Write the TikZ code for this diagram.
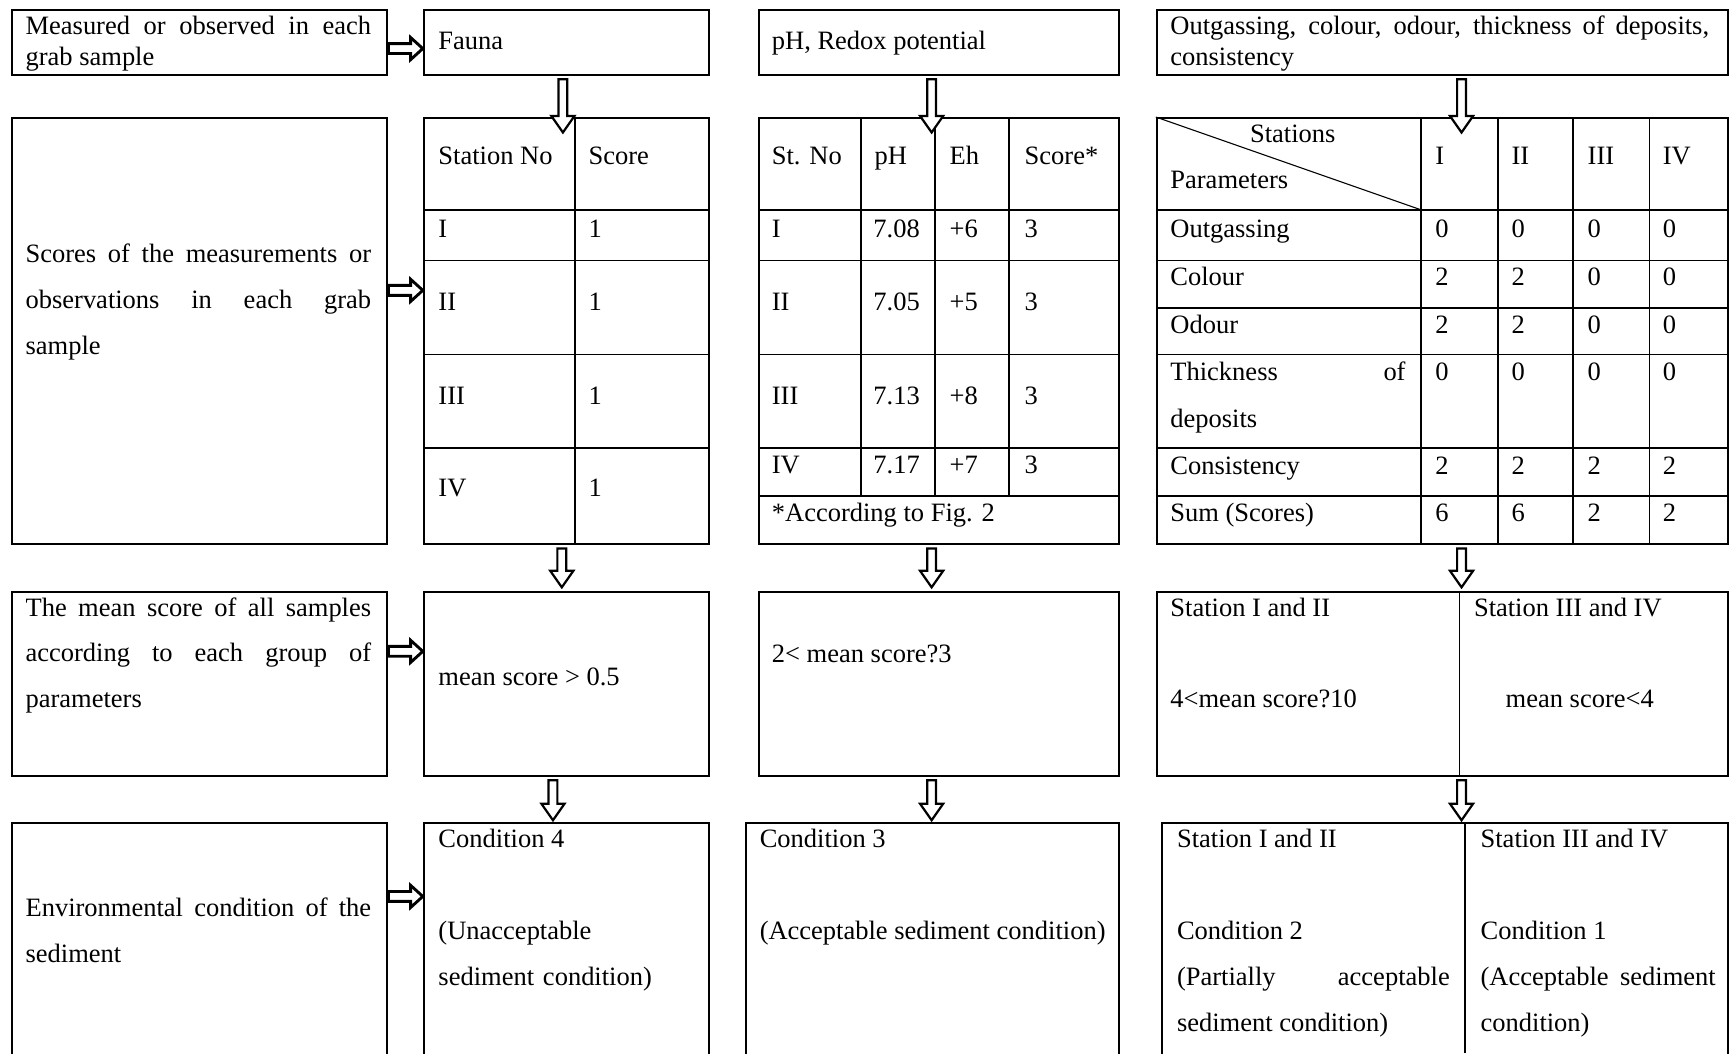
\documentclass[tikz,border=0pt]{standalone}
\usepackage{fontspec}
\setmainfont{Liberation Serif}
\usetikzlibrary{calc}

\tikzset{
  box/.style={draw, line width=1.8pt, anchor=north west, inner sep=0pt},
  lbl/.style={anchor=base west, inner sep=0pt},
  para/.style={anchor=base west, inner sep=0pt, align=justify},
  rule/.style={line width=1.5pt},
  rightarr/.style={draw, line width=2.6pt, fill=white,
    to path={($(\tikztostart)+(0,-4.5)$) -- ($(\tikztotarget)+(-11,-4.5)$) -- ($(\tikztotarget)+(-11,-10)$)
      -- (\tikztotarget) -- ($(\tikztotarget)+(-11,10)$) -- ($(\tikztotarget)+(-11,4.5)$) -- ($(\tikztostart)+(0,4.5)$) -- cycle}},
  downarr/.style={draw, line width=2pt, fill=white,
    to path={($(\tikztostart)+(-4,0)$) -- ($(\tikztotarget)+(-4,-15)$) -- ($(\tikztotarget)+(-10.5,-15)$)
      -- (\tikztotarget) -- ($(\tikztotarget)+(10.5,-15)$) -- ($(\tikztotarget)+(4,-15)$) -- ($(\tikztostart)+(4,0)$) -- cycle}}
}

\begin{document}
\begin{tikzpicture}[x=1pt, y=-1pt, font=\fontsize{24}{28}\selectfont]
    \path[use as bounding box, fill=white] (0,0) rectangle (1568,954);

    % row 1: what is measured
    \node[box, minimum width=340, minimum height=59] (measured) at (10,8) {};
    \node[box, minimum width=258, minimum height=59] (fauna) at (383,8) {};
    \node[box, minimum width=326, minimum height=59] (redox) at (687,8) {};
    \node[box, minimum width=517, minimum height=59] (visual) at (1047,8) {};
    \node[para, text width=313] at (23,31) {Measured or observed in each\linebreak grab sample};
    \node[lbl] at (397,45) {Fauna};
    \node[lbl] at (699,45) {pH, Redox potential};
    \node[para, text width=488] at (1060,31) {Outgassing, colour, odour, thickness of deposits,\linebreak consistency};

    % row 2: scores
    \node[box, minimum width=340, minimum height=386] (scores) at (10,106) {};
    \node[box, minimum width=258, minimum height=386] (faunatab) at (383,106) {};
    \node[box, minimum width=326, minimum height=386] (redoxtab) at (687,106) {};
    \node[box, minimum width=517, minimum height=386] (visualtab) at (1047,106) {};
    \node[para, text width=313, font=\fontsize{24}{41.5}\selectfont] at (23,238) {Scores of the measurements or\linebreak observations in each grab\linebreak sample};

    % fauna table
    \draw[rule] (521,106) -- (521,492);
    \foreach \y in {190,236,321,406} \draw[rule] (383,\y) -- (641,\y);
    \node[lbl] at (397,149) {Station No};
    \node[lbl] at (533,149) {Score};
    \foreach \st/\y in {I/215,II/281,III/366,IV/450} {
        \node[lbl] at (397,\y) {\st};
        \node[lbl] at (533,\y) {1};
    }

    % pH table
    \foreach \x in {780,847,914} \draw[rule] (\x,106) -- (\x,449);
    \foreach \y in {190,236,321,406,449} \draw[rule] (687,\y) -- (1013,\y);
    \node[lbl] at (699,149) {St. No};
    \node[lbl] at (792,149) {pH};
    \node[lbl] at (860,149) {Eh};
    \node[lbl] at (928,149) {Score*};
    \foreach \st/\ph/\eh/\y in {I/7.08/+6/215, II/7.05/+5/281, III/7.13/+8/366, IV/7.17/+7/429} {
        \node[lbl] at (699,\y) {\st};
        \node[lbl] at (791,\y) {\ph};
        \node[lbl] at (860,\y) {\eh};
        \node[lbl] at (928,\y) {3};
    }
    \node[lbl] at (699,472) {*According to Fig. 2};

    % sediment table
    \foreach \x in {1287,1357,1425,1494} \draw[rule] (\x,106) -- (\x,492);
    \foreach \y in {190,236,279,321,406,449} \draw[rule] (1047,\y) -- (1564,\y);
    \draw[line width=1pt] (1047,106) -- (1287,190);
    \node[anchor=base, inner sep=0pt] at (1171,129) {Stations};
    \node[lbl] at (1060,171) {Parameters};
    \foreach \st/\x in {I/1300,II/1369,III/1438,IV/1506} \node[lbl] at (\x,149) {\st};
    \foreach \prm/\a/\b/\c/\d/\y in {Outgassing/0/0/0/0/215, Colour/2/2/0/0/259, Odour/2/2/0/0/302,
        Thickness/0/0/0/0/345, Consistency/2/2/2/2/430, {Sum (Scores)}/6/6/2/2/472} {
        \node[lbl] at (1300,\y) {\a};
        \node[lbl] at (1369,\y) {\b};
        \node[lbl] at (1438,\y) {\c};
        \node[lbl] at (1506,\y) {\d};
    }
    \foreach \prm/\y in {Outgassing/215, Colour/259, Odour/302, Consistency/430, {Sum (Scores)}/472}
        \node[lbl] at (1060,\y) {\prm};
    \node[para, text width=213, font=\fontsize{24}{42}\selectfont] at (1060,345) {Thickness of\linebreak deposits};

    % row 3: mean scores
    \node[box, minimum width=340, minimum height=167] (meanlbl) at (10,535) {};
    \node[box, minimum width=258, minimum height=167] (faunamean) at (383,535) {};
    \node[box, minimum width=326, minimum height=167] (redoxmean) at (687,535) {};
    \node[box, minimum width=517, minimum height=167] (visualmean) at (1047,535) {};
    \draw[line width=1.2pt] (1322,535) -- (1322,702);
    \node[para, text width=313, font=\fontsize{24}{41.5}\selectfont] at (23,558) {The mean score of all samples\linebreak according to each group of\linebreak parameters};
    \node[lbl] at (397,621) {mean score > 0.5};
    \node[lbl] at (699,600) {2< mean score?3};
    \node[lbl] at (1060,558) {Station I and II};
    \node[lbl] at (1060,641) {4<mean score?10};
    \node[lbl] at (1335,558) {Station III and IV};
    \node[anchor=base, inner sep=0pt] at (1431,641) {mean score<4};

    % row 4: condition
    \node[box, minimum width=340, minimum height=220] (envlbl) at (10,745) {};
    \node[box, minimum width=258, minimum height=220] (faunacond) at (383,745) {};
    \node[box, minimum width=338, minimum height=220] (redoxcond) at (675,745) {};
    \node[box, minimum width=512, minimum height=220] (visualcond) at (1052,745) {};
    \draw[line width=1.2pt] (1327,745) -- (1327,954);
    \node[para, text width=313, font=\fontsize{24}{42}\selectfont] at (23,830) {Environmental condition of the\linebreak sediment};
    \node[lbl] at (397,768) {Condition 4};
    \node[para, align=left, text width=240, font=\fontsize{24}{42}\selectfont] at (397,851) {(Unacceptable\\ sediment condition)};
    \node[lbl] at (688,768) {Condition 3};
    \node[lbl] at (688,851) {(Acceptable sediment condition)};
    \node[lbl] at (1066,768) {Station I and II};
    \node[lbl] at (1066,851) {Condition 2};
    \node[para, text width=247, font=\fontsize{24}{41.5}\selectfont] at (1066,893) {(Partially acceptable\linebreak sediment condition)};
    \node[lbl] at (1341,768) {Station III and IV};
    \node[lbl] at (1341,851) {Condition 1};
    \node[para, text width=213, font=\fontsize{24}{41.5}\selectfont] at (1341,893) {(Acceptable sediment\linebreak condition)};

    % arrows
    \draw[rightarr] ($(measured.north east)+(0,36)$) to ($(fauna.north west)+(0,36)$);
    \draw[rightarr] ($(scores.north east)+(0,157)$) to ($(faunatab.north west)+(0,157)$);
    \draw[rightarr] ($(meanlbl.north east)+(0,55)$) to ($(faunamean.north west)+(0,55)$);
    \draw[rightarr] ($(envlbl.north east)+(0,67)$) to ($(faunacond.north west)+(0,67)$);

    \draw[downarr] ($(fauna.south)+(-3,3)$) to ($(faunatab.north)+(-3,14)$);
    \draw[downarr] ($(redox.south)+(-7,3)$) to ($(redoxtab.north)+(-7,14)$);
    \draw[downarr] ($(visual.south)+(17.5,3)$) to ($(visualtab.north)+(17.5,14)$);

    \draw[downarr] ($(faunatab.south)+(-4,3)$) to ($(faunamean.north)+(-4,-3)$);
    \draw[downarr] ($(redoxtab.south)+(-7,3)$) to ($(redoxmean.north)+(-7,-3)$);
    \draw[downarr] ($(visualtab.south)+(17.5,3)$) to ($(visualmean.north)+(17.5,-3)$);

    \draw[downarr] ($(faunamean.south)+(-12,3)$) to ($(faunacond.north)+(-12,-2)$);
    \draw[downarr] ($(redoxmean.south)+(-7,3)$) to ($(redoxcond.north)+(-1,-2)$);
    \draw[downarr] ($(visualmean.south)+(17.5,3)$) to ($(visualcond.north)+(15,-2)$);
\end{tikzpicture}
\end{document}
